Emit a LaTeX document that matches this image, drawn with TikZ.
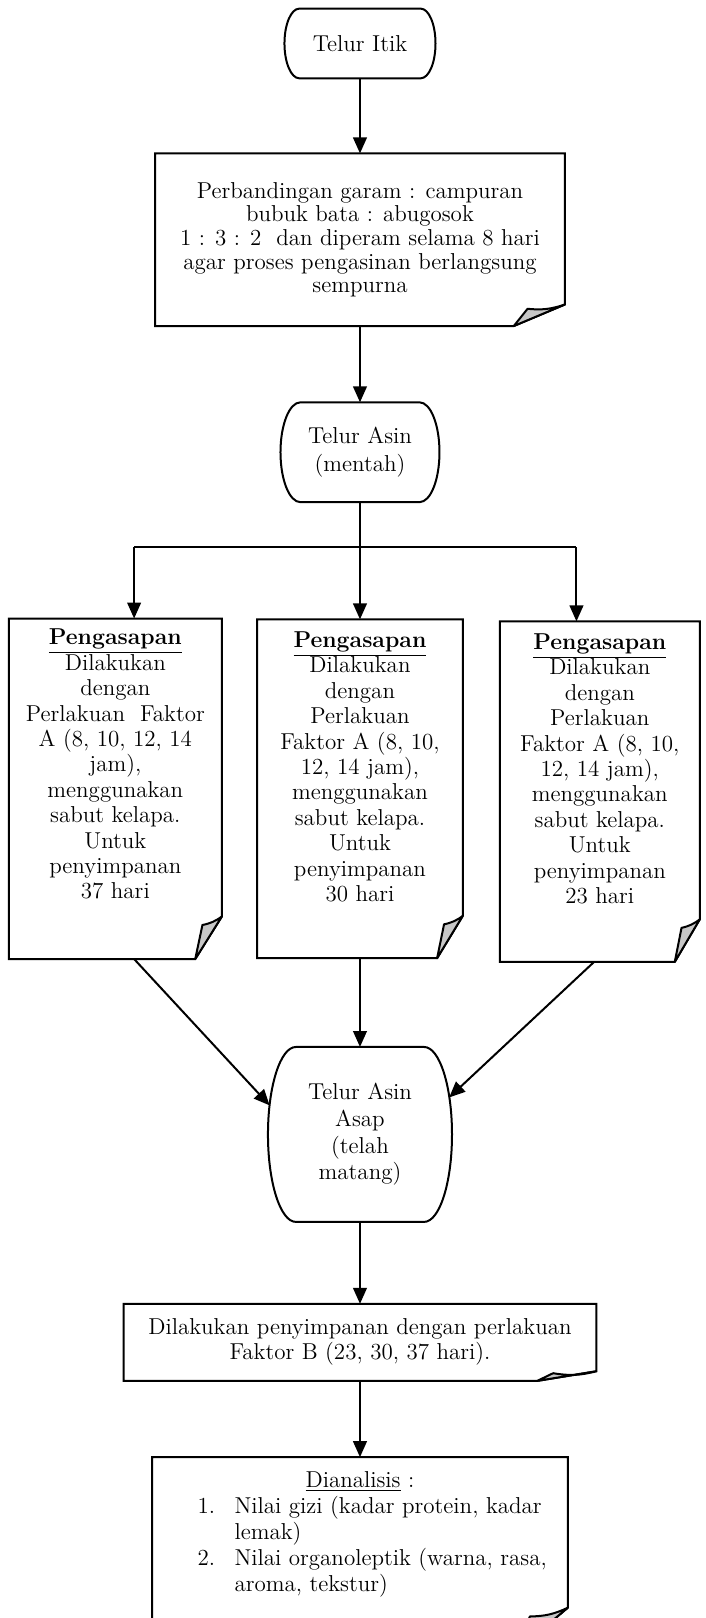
\documentclass[tikz,border=0pt]{standalone}
\usepackage{tikz}
\usetikzlibrary{positioning, arrows.meta, calc}

% terminator outline with elliptic ends: #1 node, #2 x radius
\newcommand{\termline}[2]{%
  \draw[outline] let \p1=(#1.north), \p2=(#1.south) in
    ([xshift=#2]#1.north west) -- ([xshift=-#2]#1.north east)
    arc[start angle=90, end angle=-90, x radius=#2, y radius={(\y1-\y2)/2}]
    -- ([xshift=#2]#1.south west)
    arc[start angle=270, end angle=90, x radius=#2, y radius={(\y1-\y2)/2}] -- cycle;}

% note outline with folded corner: #1 fold height fraction, #2 node
\newcommand{\notefold}[2][0.125]{%
  \coordinate (#2-p) at ($(#2.south east)!0.125!(#2.south west)$);
  \coordinate (#2-q) at ($(#2.south east)!#1!(#2.north east)$);
  \coordinate (#2-x) at ($(#2-p)!0.27!(#2.south east)$);
  \coordinate (#2-y) at ($(#2.south east)!0.8!(#2-q)$);
  \draw[outline] (#2.north west) -- (#2.north east) -- (#2-q) -- (#2-p) -- (#2.south west) -- cycle;
  \filldraw[outline, line join=round, fill=black!22] (#2-p) -- (#2-x |- #2-y) to[bend right=12] (#2-q) -- cycle;}

\begin{document}
\begin{tikzpicture}[
        node distance = 13.2mm and 6.2mm,
        term/.style    = {align=center, inner sep=0pt, font=\fontsize{11.5}{13.3}\selectfont},
        note/.style    = {align=center, inner sep=0pt, font=\fontsize{11.5}{12.5}\selectfont},
        pane/.style    = {note, font=\fontsize{11.5}{12.7}\selectfont},
        list/.style    = {note, font=\fontsize{11.5}{13.1}\selectfont},
        outline/.style = {line width=1pt, line join=miter},
        arrow/.style   = {-{Triangle[length=2.8mm, width=2.4mm]}, line width=1pt},
    ]
        \useasboundingbox (-63.26mm,7.64mm) rectangle (60.80mm,-276.69mm);
        \clip (-63.26mm,7.64mm) rectangle (60.80mm,-276.69mm);

        % Start
        \node[term, minimum width=26.4mm, minimum height=12.1mm] (itik) {Telur Itik};
        % Salting
        \node[note, font=\fontsize{11.5}{11.8}\selectfont, minimum width=71.9mm, minimum height=30.2mm, below=13.2mm of itik] (garam)
            {Perbandingan garam : campuran\\bubuk bata : abugosok\\1 : 3 : 2\ \ dan diperam selama 8 hari\\agar proses pengasinan berlangsung\\sempurna};
        \node[term, font=\fontsize{11.5}{13.6}\selectfont, minimum width=27.8mm, minimum height=17.4mm, below=13.4mm of garam] (mentah) {Telur Asin\\(mentah)};
        % Smoking
        \node[pane, below=20.6mm of mentah] (asapB)
            {\parbox[t][59.4mm][t]{36.0mm}{\centering\vspace*{2.1mm}\textbf{\underline{Pengasapan}}\\Dilakukan\\dengan\\Perlakuan\\Faktor A (8, 10,\\12, 14 jam),\\menggunakan\\sabut kelapa.\\Untuk\\penyimpanan\\30 hari}};
        \node[pane, left=6.2mm of asapB] (asapA)
            {\parbox[t][59.7mm][t]{37.3mm}{\centering\vspace*{1.8mm}\textbf{\underline{Pengasapan}}\\Dilakukan\\dengan\\Perlakuan\ \ Faktor\\A (8, 10, 12, 14\\jam),\\menggunakan\\sabut kelapa.\\Untuk\\penyimpanan\\37 hari}};
        \node[pane, right=6.5mm of asapB, yshift=-0.5mm] (asapC)
            {\parbox[t][59.7mm][t]{35.0mm}{\centering\vspace*{2.1mm}\textbf{\underline{Pengasapan}}\\Dilakukan\\dengan\\Perlakuan\\Faktor A (8, 10,\\12, 14 jam),\\menggunakan\\sabut kelapa.\\Untuk\\penyimpanan\\23 hari}};
        \node[term, minimum width=32.2mm, minimum height=30.6mm, below=15.6mm of asapB] (matang) {Telur Asin\\Asap\\(telah\\matang)};
        % Storage and analysis
        \node[note, minimum width=82.9mm, minimum height=13.4mm, below=14.4mm of matang] (simpan)
            {Dilakukan penyimpanan dengan perlakuan\\Faktor B (23, 30, 37 hari).};
        \node[list, below=13.4mm of simpan] (analisis)
            {\parbox[t][34mm][t]{72.9mm}{\vspace*{2.4mm}\centering\underline{Dianalisis} :\par
             \raggedright\hspace*{7.9mm}\makebox[6.5mm][l]{1.}Nilai gizi (kadar protein, kadar\\
             \hspace*{14.4mm}lemak)\\
             \hspace*{7.9mm}\makebox[6.5mm][l]{2.}Nilai organoleptik (warna, rasa,\\
             \hspace*{14.4mm}aroma, tekstur)}};

        % Outlines
        \termline{itik}{2.6mm}
        \termline{mentah}{3.5mm}
        \termline{matang}{4.9mm}
        \notefold{garam}
        \notefold{asapA}
        \notefold{asapB}
        \notefold{asapC}
        \notefold{simpan}
        \notefold[0.225]{analisis}

        % Branch points
        \coordinate (split) at ([yshift=-7.9mm]mentah.south);
        \coordinate (inA) at ([xshift=3.3mm]asapA.north);
        \coordinate (inC) at ([xshift=-4.1mm]asapC.north);
        \coordinate (outA) at ([xshift=3.3mm]asapA.south);
        \coordinate (outC) at ([xshift=-1mm]asapC.south);

        % Arrows
        \draw[arrow] (itik) -- (garam);
        \draw[arrow] (garam) -- (mentah);
        \draw[arrow] (mentah) -- (asapB);
        \draw[line width=1pt] (split -| inA) -- (split -| inC);
        \draw[arrow] (split -| inA) -- (inA);
        \draw[arrow] (split -| inC) -- (inC);
        \draw[arrow] (outA) -- ([yshift=5.1mm, xshift=0.3mm]matang.west);
        \draw[arrow] (asapB) -- (matang);
        \draw[arrow] (outC) -- ([yshift=6.5mm, xshift=-0.5mm]matang.east);
        \draw[arrow] (matang) -- (simpan);
        \draw[arrow] (simpan) -- (analisis);
    \end{tikzpicture}
\end{document}
